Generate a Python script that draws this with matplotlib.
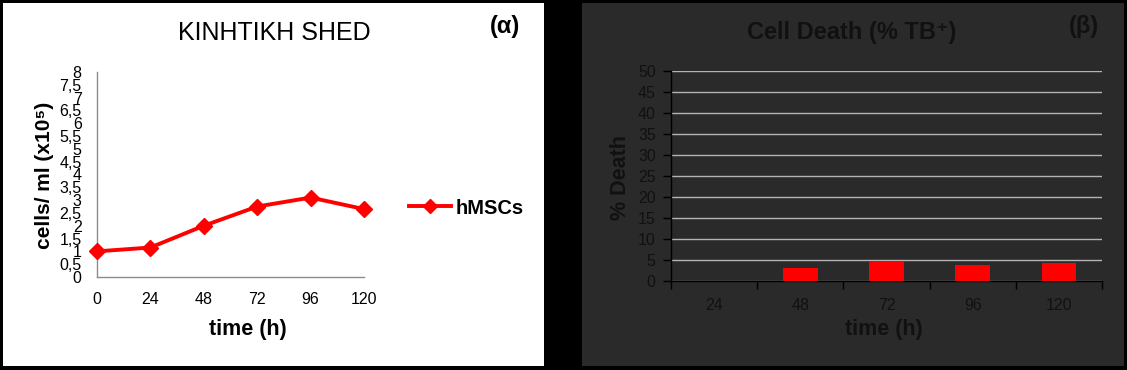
"""Growth kinetics (a) and cell death (b) panels for SHED
"""
import numpy as np
import matplotlib
matplotlib.use("Agg")
import matplotlib.pyplot as plt
from matplotlib.patches import Rectangle

# ----------
# Data
# ----------
hours_growth = [0, 24, 48, 72, 96, 120]
cells_per_ml = [1.0, 1.15, 2.0, 2.75, 3.1, 2.65]     # x10^5
growth_yticks = np.arange(0, 8.5, 0.5)
growth_yticklabels = [("%g" % v).replace(".", ",") for v in growth_yticks]

hours_death = ["24", "48", "72", "96", "120"]
death_percent = [0.0, 3.0, 4.85, 3.9, 4.4]
death_yticks = list(range(0, 55, 5))

W, H = 1127, 370
FONT = ['Liberation Sans', 'DejaVu Sans']
plt.rcParams['font.family'] = FONT


def fx(px):
    return px / W


def fy(py):
    return 1 - py / H


fig = plt.figure(figsize=(W / 100, H / 100), dpi=100)
fig.patch.set_facecolor('black')

# Panel backgrounds (behind the axes)
fig.patches.append(Rectangle((fx(3), fy(366)), fx(544) - fx(3), fy(3) - fy(366),
                             transform=fig.transFigure, facecolor='white',
                             edgecolor='none', zorder=-10))
fig.patches.append(Rectangle((fx(582), fy(366)), fx(1124) - fx(582), fy(3) - fy(366),
                             transform=fig.transFigure, facecolor='#2a2a2a',
                             edgecolor='none', zorder=-10))

# -------
# (a) growth curve
# -------
ax1 = fig.add_axes([fx(97), fy(277), fx(364) - fx(97), fy(72) - fy(277)])
ax1.patch.set_alpha(0)
ax1.plot(hours_growth, cells_per_ml, color='#ff0000', lw=2.8, marker='D',
         markersize=8, clip_on=False, label='hMSCs', zorder=3)
ax1.set_xlim(0, 120)
ax1.set_ylim(0, 8)
ax1.set_xticks(hours_growth)
ax1.set_yticks(growth_yticks)
ax1.set_yticklabels(growth_yticklabels)
ax1.tick_params(length=0, labelsize=11.5, colors='black')
ax1.tick_params(axis='x', pad=11)
ax1.tick_params(axis='y', pad=11)
for side in ['top', 'right']:
    ax1.spines[side].set_visible(False)
for side in ['left', 'bottom']:
    ax1.spines[side].set_color('#8c8c8c')
    ax1.spines[side].set_linewidth(1)

ax1.legend(loc='center left', bbox_to_anchor=(fx(409), fy(208)),
           bbox_transform=fig.transFigure, frameon=False,
           prop={'family': FONT, 'weight': 'bold', 'size': 14.5},
           handlelength=2.1, handletextpad=0.2, borderpad=0, borderaxespad=0,
           markerscale=0.9)

fig.text(fx(274), fy(33), "KINHTIKH SHED", fontsize=18, ha='center', va='center')
fig.text(fx(505), fy(27), "(α)", fontsize=17, fontweight='bold', ha='center', va='center')
fig.text(fx(45), fy(175), "cells/ ml (x10⁵)", fontsize=15, fontweight='bold',
         rotation=90, ha='center', va='center')
fig.text(fx(248), fy(330), "time (h)", fontsize=15.5, fontweight='bold',
         ha='center', va='center')

# -------
# (b) cell death bars
# -------
dark_text = '#111111'
ax2 = fig.add_axes([fx(671), fy(281), fx(1102) - fx(671), fy(71) - fy(281)])
ax2.patch.set_alpha(0)
x_pos = np.arange(len(hours_death))
ax2.bar(x_pos, death_percent, width=0.4, color='#ff0000', zorder=3)
ax2.set_xlim(-0.5, len(hours_death) - 0.5)
ax2.set_ylim(0, 50)
ax2.set_yticks(death_yticks)
ax2.yaxis.grid(True, color='#b4b4b4', linewidth=1)
ax2.set_axisbelow(True)

ax2.set_xticks(np.arange(-0.5, len(hours_death), 1.0))
ax2.set_xticklabels([])
ax2.set_xticks(x_pos, minor=True)
ax2.set_xticklabels(hours_death, minor=True)
ax2.tick_params(axis='x', which='major', length=6, width=1, color='black', direction='out')
ax2.tick_params(axis='x', which='minor', length=0, pad=12, labelsize=11.5, labelcolor=dark_text)
ax2.tick_params(axis='y', length=6, width=1, color='black', pad=5,
                labelsize=11.5, labelcolor=dark_text)
for side in ['top', 'right']:
    ax2.spines[side].set_visible(False)
for side in ['left', 'bottom']:
    ax2.spines[side].set_color('black')
    ax2.spines[side].set_linewidth(1)

fig.text(fx(852), fy(33), "Cell Death (% TB⁺)", fontsize=17, fontweight='bold',
         color=dark_text, ha='center', va='center')
fig.text(fx(1084), fy(27), "(β)", fontsize=17, fontweight='bold', color=dark_text,
         ha='center', va='center')
fig.text(fx(620), fy(177), "% Death", fontsize=15.5, fontweight='bold', color=dark_text,
         rotation=90, ha='center', va='center')
fig.text(fx(884), fy(330), "time (h)", fontsize=15.5, fontweight='bold', color=dark_text,
         ha='center', va='center')

plt.savefig("out.png", dpi=100, facecolor=fig.get_facecolor())
plt.close()
